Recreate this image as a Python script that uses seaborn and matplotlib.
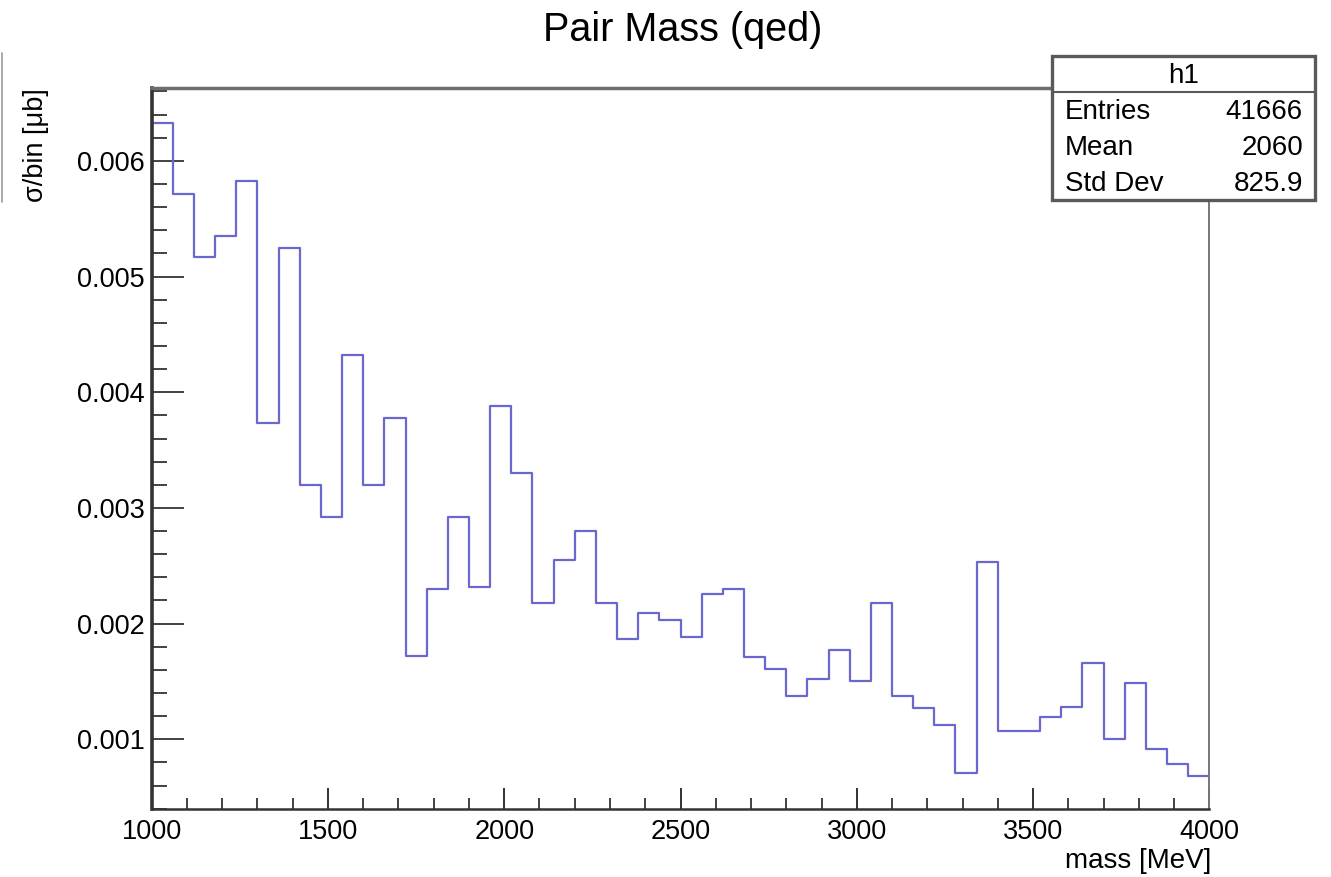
import numpy as np
import pandas as pd
import matplotlib
matplotlib.use("Agg")
import matplotlib.pyplot as plt
import matplotlib.patches as mpatches
from matplotlib.lines import Line2D
from matplotlib.ticker import MultipleLocator
import seaborn as sns

# ---------------- data ----------------
mass_min = 1000.0
mass_max = 4000.0
n_bins = 50
# sigma per bin [ub], 60 MeV bins from 1000 to 4000 MeV
sigma_per_bin = [
    0.00633, 0.00571, 0.00517, 0.00535, 0.00583, 0.00373, 0.00525, 0.00320, 0.00292, 0.00432,
    0.00320, 0.00378, 0.00172, 0.00230, 0.00292, 0.00232, 0.00388, 0.00330, 0.00218, 0.00255,
    0.00280, 0.00218, 0.00187, 0.00209, 0.00203, 0.00188, 0.00226, 0.00230, 0.00171, 0.00161,
    0.00137, 0.00152, 0.00177, 0.00150, 0.00218, 0.00137, 0.00127, 0.00112, 0.00071, 0.00253,
    0.00107, 0.00107, 0.00119, 0.00128, 0.00166, 0.00100, 0.00149, 0.00092, 0.00079, 0.00068,
]
stats_names = ["Entries", "Mean", "Std Dev"]
stats_values = ["41666", "2060", "825.9"]
hist_name = "h1"
title = "Pair Mass (qed)"
x_label = "mass [MeV]"
y_label = "σ/bin [μb]"

edges = np.linspace(mass_min, mass_max, n_bins + 1)
centers = 0.5 * (edges[:-1] + edges[1:])
df = pd.DataFrame({"mass": centers, "sigma": sigma_per_bin})

# ---------------- style ----------------
sns.set_style("ticks")
plt.rcParams["font.family"] = ["Liberation Sans", "DejaVu Sans"]
plt.rcParams["text.color"] = "black"
plt.rcParams["xtick.labelcolor"] = "black"
plt.rcParams["ytick.labelcolor"] = "black"

W, H = 1331, 877
fig = plt.figure(figsize=(W / 100, H / 100), dpi=100, facecolor="white")
ax = fig.add_axes([151.7 / W, 1 - 809.3 / H, (1209.3 - 151.7) / W, (809.3 - 88.3) / H])

sns.histplot(data=df, x="mass", weights="sigma", bins=n_bins,
             binrange=(mass_min, mass_max), element="step",
             fill=False, color="#6868d0", linewidth=1.6, ax=ax)

ax.set_xlim(mass_min, mass_max)
ax.set_ylim(0.000395, 0.006627)
ax.set_xlabel("")
ax.set_ylabel("")

ax.xaxis.set_major_locator(MultipleLocator(500))
ax.xaxis.set_minor_locator(MultipleLocator(100))
ax.yaxis.set_major_locator(MultipleLocator(0.001))
ax.yaxis.set_minor_locator(MultipleLocator(0.0002))
ax.yaxis.set_major_formatter(matplotlib.ticker.FuncFormatter(lambda v, p: f"{v:.3f}"))

ax.tick_params(axis="y", which="major", direction="in", length=23, width=1.2,
               labelsize=19.5, pad=5, color="#222222", labelcolor="black")
ax.tick_params(axis="y", which="minor", direction="in", length=11, width=1.2, color="#222222")
ax.tick_params(axis="x", which="major", direction="in", length=15, width=1.3,
               labelsize=19.5, pad=7, color="#222222", labelcolor="black")
ax.tick_params(axis="x", which="minor", direction="in", length=8, width=1.2, color="#222222")
ax.tick_params(top=False, right=False, which="both")

for side in ["left", "bottom"]:
    ax.spines[side].set_color("#333333")
ax.spines["left"].set_linewidth(2.6)
ax.spines["bottom"].set_linewidth(1.8)
ax.spines["top"].set_color("#6e6e6e")
ax.spines["top"].set_linewidth(2.5)
ax.spines["right"].set_color("#777777")
ax.spines["right"].set_linewidth(1.4)
ax.spines["top"].set_visible(True)
ax.spines["right"].set_visible(True)

# ---------------- texts ----------------
fig.text(683 / W, 1 - 30 / H, title, ha="center", va="center", fontsize=28.5, color="black")
fig.text(1211 / W, 1 - 861 / H, x_label, ha="right", va="center", fontsize=20, color="black")
fig.text(36 / W, 1 - 88 / H, y_label, ha="center", va="top", rotation=90, fontsize=19.5,
         color="black")

# stray frame line at left edge
fig.add_artist(Line2D([1.5 / W, 1.5 / W], [1 - 53 / H, 1 - 202 / H],
                      transform=fig.transFigure, color="#999999", lw=1.2))

# ---------------- stats box ----------------
bx0, bx1, by0, by1 = 1052, 1315, 56, 200
box = mpatches.Rectangle((bx0 / W, 1 - by1 / H), (bx1 - bx0) / W, (by1 - by0) / H,
                         transform=fig.transFigure, facecolor="white",
                         edgecolor="#5a5a5a", linewidth=2.4, zorder=10)
fig.add_artist(box)
fig.add_artist(Line2D([bx0 / W, bx1 / W], [1 - 92 / H, 1 - 92 / H],
                      transform=fig.transFigure, color="#5a5a5a", lw=1.5, zorder=11))
fig.text((bx0 + bx1) / 2 / W, 1 - 76 / H, hist_name, ha="center", va="center",
         fontsize=20, zorder=12, color="black")
row_y = [112, 148, 184]
for name, val, yy in zip(stats_names, stats_values, row_y):
    fig.text(1065 / W, 1 - yy / H, name, ha="left", va="center", fontsize=20, zorder=12,
             color="black")
    fig.text(1303 / W, 1 - yy / H, val, ha="right", va="center", fontsize=20, zorder=12,
             color="black")

fig.savefig("out.png", dpi=100, facecolor="white")
